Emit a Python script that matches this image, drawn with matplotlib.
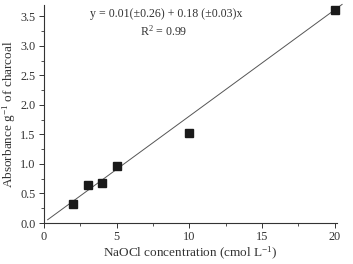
import numpy as np
import matplotlib
matplotlib.use("Agg")
import matplotlib.pyplot as plt
from matplotlib.ticker import MultipleLocator

# NaOCl concentration (cmol/L) vs absorbance per g of charcoal
conc = [2, 3, 4, 5, 10, 20]
absorb = [0.33, 0.65, 0.67, 0.97, 1.52, 3.60]
intercept, slope = 0.01, 0.18
fit_x = [0.25, 20.5]

plt.rcParams["font.family"] = ["Liberation Serif", "DejaVu Serif"]
plt.rcParams["mathtext.fontset"] = "custom"
plt.rcParams["mathtext.rm"] = "Liberation Serif"
plt.rcParams["mathtext.it"] = "Liberation Serif:italic"

fig = plt.figure(figsize=(3.53, 2.64), dpi=100)
ax = fig.add_axes([44 / 353, 41 / 264, 293 / 353, 218 / 264])

fx = np.array(fit_x)
ax.plot(fx, intercept + slope * fx, color="#555555", linewidth=0.7, clip_on=False)
ax.plot(conc, absorb, "s", color="#1a1a1a", markersize=5.5, clip_on=False)

ax.set_xlim(0, 20.15)
ax.set_ylim(0, 3.69)
ax.xaxis.set_minor_locator(MultipleLocator(2.5))
ax.yaxis.set_minor_locator(MultipleLocator(0.25))
ax.set_xticks([0, 5, 10, 15, 20])
ax.set_yticks(np.arange(0, 3.51, 0.5))
ax.set_xticklabels(["0", "5", "10", "15", "20"])
ax.set_yticklabels([f"{v:.1f}" for v in np.arange(0, 3.51, 0.5)])

for s in ("top", "right"):
    ax.spines[s].set_visible(False)
for s in ("left", "bottom"):
    ax.spines[s].set_color("#333333")
    ax.spines[s].set_linewidth(0.8)

ax.tick_params(which="major", length=3.5, width=0.7, labelsize=8.8,
               colors="#333333", pad=2.5)
ax.tick_params(which="minor", length=2, width=0.6, colors="#333333")

ax.set_xlabel("NaOCl concentration (cmol L$^{-1}$)", fontsize=9.5,
              color="#333333", labelpad=1)
ax.set_ylabel("Absorbance g$^{-1}$ of charcoal", fontsize=9.5,
              color="#333333", labelpad=1.5)

ax.text(8.4, 3.53, "y = 0.01(\u00b10.26) + 0.18 (\u00b10.03)x",
        fontsize=8.6, ha="center", va="center", color="#333333")
ax.text(8.25, 3.25, "R$^{2}$ = 0.99", fontsize=8.6, ha="center", va="center",
        color="#333333")

fig.savefig("out.png", dpi=100)
